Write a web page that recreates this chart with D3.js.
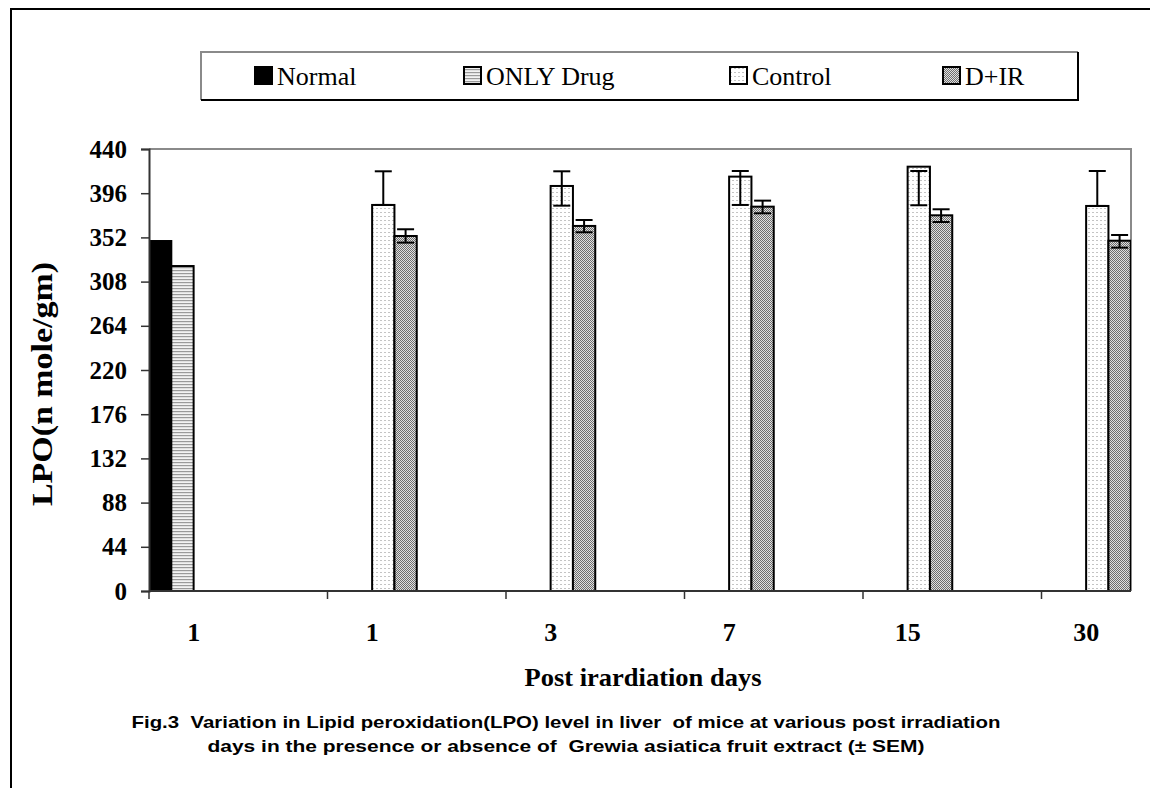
<!DOCTYPE html>
<html>
<head>
<meta charset="utf-8">
<script src="https://cdn.jsdelivr.net/npm/d3@7"></script>
<style>
  body { margin: 0; background: #fff; }
  svg { display: block; }
</style>
</head>
<body>
<svg id="chart" width="1150" height="788"></svg>
<script>
// ---- data ----
const categories = ["1", "1", "3", "7", "15", "30"];
const seriesNames = ["Normal", "ONLY Drug", "Control", "D+IR"];

const normalVals = [348.4, null, null, null, null, null];
const drugVals   = [323.5, null, null, null, null, null];
const controlVals = [null, 384.3, 403.2, 412.5, 422.4, 383.3];
const dirVals     = [null, 353.4, 363.4, 382.6, 374.0, 348.7];

// error bar ends (± SEM) as plotted
const controlHi = [null, 417.8, 417.8, 418.1, 418.1, 418.1];
const controlLo = [null, 384.3, 383.6, 384.3, 384.0, 383.3];
const dirHi     = [null, 360.1, 369.3, 388.6, 380.0, 354.4];
const dirLo     = [null, 346.8, 357.1, 376.0, 367.3, 341.8];

const yTicks = [0, 44, 88, 132, 176, 220, 264, 308, 352, 396, 440];

// ---- layout ----
const plot = { left: 149, top: 149, right: 1131, bottom: 591 };
const catStep = 178.5;
const serif = "'Liberation Serif', 'Times New Roman', serif";

const svg = d3.select("#chart");

// patterns
const defs = svg.append("defs");

const pDrug = defs.append("pattern").attr("id", "pat-drug")
    .attr("patternUnits", "userSpaceOnUse").attr("width", 4).attr("height", 3);
pDrug.append("rect").attr("width", 4).attr("height", 3).attr("fill", "#f2f2f2");
pDrug.append("rect").attr("width", 4).attr("height", 1.2).attr("fill", "#9a9a9a");

const pCtrl = defs.append("pattern").attr("id", "pat-control")
    .attr("patternUnits", "userSpaceOnUse").attr("width", 4).attr("height", 4);
pCtrl.append("rect").attr("width", 4).attr("height", 4).attr("fill", "#ffffff");
pCtrl.append("rect").attr("width", 2).attr("height", 1).attr("fill", "#c4c4c4");

const pDir = defs.append("pattern").attr("id", "pat-dir")
    .attr("patternUnits", "userSpaceOnUse").attr("width", 2).attr("height", 2);
pDir.append("rect").attr("width", 2).attr("height", 2).attr("fill", "#e0e0e0");
pDir.append("rect").attr("width", 1).attr("height", 1).attr("fill", "#6e6e6e");
pDir.append("rect").attr("x", 1).attr("y", 1).attr("width", 1).attr("height", 1).attr("fill", "#6e6e6e");

const fills = ["#000000", "url(#pat-drug)", "url(#pat-control)", "url(#pat-dir)"];

// outer frame
svg.append("rect")
    .attr("x", 11).attr("y", 9).attr("width", 1200).attr("height", 820)
    .attr("fill", "none").attr("stroke", "#000").attr("stroke-width", 2);

// scales
const x = d3.scaleBand()
    .domain(d3.range(categories.length))
    .range([plot.left, plot.left + catStep * categories.length])
    .padding(0);

const slot = d3.scaleBand()
    .domain(seriesNames)
    .range([0, x.bandwidth() / 2])
    .padding(0);

const y = d3.scaleLinear()
    .domain([0, 440])
    .range([plot.bottom, plot.top]);

// plot frame (top & right, gray)
svg.append("path")
    .attr("d", `M${plot.left},${plot.top}H${plot.right}V${plot.bottom}`)
    .attr("fill", "none").attr("stroke", "#8a8a8a").attr("stroke-width", 2);

// clip for the truncated last category
defs.append("clipPath").attr("id", "plot-clip")
  .append("rect")
    .attr("x", plot.left).attr("y", plot.top - 40)
    .attr("width", plot.right - plot.left).attr("height", plot.bottom - plot.top + 40);

const seriesVals = [normalVals, drugVals, controlVals, dirVals];
const barData = [];
seriesVals.forEach((vals, si) => {
    vals.forEach((v, ci) => {
        if (v != null) barData.push({ s: seriesNames[si], si: si, ci: ci, v: v });
    });
});

const barsG = svg.append("g").attr("clip-path", "url(#plot-clip)");
barsG.selectAll("rect.bar")
    .data(barData)
    .enter()
    .append("rect")
    .attr("class", "bar")
    .attr("x", d => x(d.ci) + slot(d.s))
    .attr("y", d => y(d.v))
    .attr("width", slot.bandwidth())
    .attr("height", d => y(0) - y(d.v))
    .attr("fill", d => fills[d.si])
    .attr("stroke", "#000")
    .attr("stroke-width", 2);

// error bars
const errData = [];
[[2, controlHi, controlLo], [3, dirHi, dirLo]].forEach(([si, hi, lo]) => {
    hi.forEach((h, ci) => {
        if (h != null) errData.push({ s: seriesNames[si], ci: ci, hi: h, lo: lo[ci] });
    });
});
const capW = 17;
const errG = barsG.append("g").attr("stroke", "#000").attr("stroke-width", 2);
errData.forEach(d => {
    const cx = x(d.ci) + slot(d.s) + slot.bandwidth() / 2;
    errG.append("line").attr("x1", cx).attr("x2", cx).attr("y1", y(d.hi)).attr("y2", y(d.lo));
    errG.append("line").attr("x1", cx - capW / 2).attr("x2", cx + capW / 2).attr("y1", y(d.hi)).attr("y2", y(d.hi));
    errG.append("line").attr("x1", cx - capW / 2).attr("x2", cx + capW / 2).attr("y1", y(d.lo)).attr("y2", y(d.lo));
});

// y axis
const yAxis = svg.append("g")
    .attr("transform", `translate(${plot.left},0)`)
    .call(d3.axisLeft(y).tickValues(yTicks).tickSize(8).tickPadding(14));
yAxis.select(".domain").attr("stroke", "#333").attr("stroke-width", 2);
yAxis.selectAll(".tick line").attr("stroke", "#333").attr("stroke-width", 1.5);
yAxis.selectAll(".tick text")
    .attr("fill", "#000")
    .style("font-family", serif)
    .style("font-weight", "bold")
    .style("font-size", "25px");

// x axis
svg.append("line")
    .attr("x1", plot.left).attr("x2", plot.right)
    .attr("y1", plot.bottom).attr("y2", plot.bottom)
    .attr("stroke", "#333").attr("stroke-width", 2);

const xg = svg.append("g");
xg.selectAll("line.xtick")
    .data(d3.range(categories.length))
    .enter()
    .append("line")
    .attr("x1", d => x(d)).attr("x2", d => x(d))
    .attr("y1", plot.bottom).attr("y2", plot.bottom + 8)
    .attr("stroke", "#333").attr("stroke-width", 1.5);

xg.selectAll("text.xlab")
    .data(categories)
    .enter()
    .append("text")
    .attr("x", (d, i) => x(i) + x.bandwidth() / 4)
    .attr("y", 641)
    .attr("text-anchor", "middle")
    .style("font-family", serif)
    .style("font-weight", "bold")
    .style("font-size", "26px")
    .text(d => d);

// axis titles
svg.append("text")
    .attr("transform", `translate(52,384) rotate(-90)`)
    .attr("text-anchor", "middle")
    .attr("textLength", 244)
    .attr("lengthAdjust", "spacingAndGlyphs")
    .style("font-family", serif)
    .style("font-weight", "bold")
    .style("font-size", "30px")
    .text("LPO(n mole/gm)");

svg.append("text")
    .attr("x", 643).attr("y", 686)
    .attr("text-anchor", "middle")
    .attr("textLength", 237)
    .attr("lengthAdjust", "spacingAndGlyphs")
    .style("font-family", serif)
    .style("font-weight", "bold")
    .style("font-size", "26px")
    .text("Post irardiation days");

// legend
const legend = { x: 201, y: 52, w: 877, h: 48 };
const legG = svg.append("g");
legG.append("rect")
    .attr("x", legend.x).attr("y", legend.y).attr("width", legend.w).attr("height", legend.h)
    .attr("fill", "#fff").attr("stroke", "none");
legG.append("path")
    .attr("d", `M${legend.x},${legend.y + legend.h}V${legend.y}H${legend.x + legend.w}`)
    .attr("fill", "none").attr("stroke", "#8a8a8a").attr("stroke-width", 2);
legG.append("path")
    .attr("d", `M${legend.x},${legend.y + legend.h}H${legend.x + legend.w}V${legend.y}`)
    .attr("fill", "none").attr("stroke", "#000").attr("stroke-width", 2);

const legX = [255, 464, 730, 943];
const items = legG.selectAll("g.item")
    .data(seriesNames)
    .enter()
    .append("g")
    .attr("transform", (d, i) => `translate(${legX[i]},0)`);
items.append("rect")
    .attr("x", 0).attr("y", 67).attr("width", 17).attr("height", 17)
    .attr("fill", (d, i) => fills[i])
    .attr("stroke", "#000").attr("stroke-width", 2);
items.append("text")
    .attr("x", 22).attr("y", 85)
    .style("font-family", serif)
    .style("font-size", "26px")
    .text(d => d);

// caption
const capLines = [
    "Fig.3  Variation in Lipid peroxidation(LPO) level in liver  of mice at various post irradiation",
    "days in the presence or absence of  Grewia asiatica fruit extract (\u00B1 SEM)"
];
const capLen = [869, 717];
svg.selectAll("text.caption")
    .data(capLines)
    .enter()
    .append("text")
    .attr("x", 566)
    .attr("y", (d, i) => 728 + i * 24)
    .attr("text-anchor", "middle")
    .attr("textLength", (d, i) => capLen[i])
    .attr("lengthAdjust", "spacingAndGlyphs")
    .style("font-family", "'Liberation Sans', Arial, sans-serif")
    .style("font-weight", "bold")
    .style("font-size", "17px")
    .style("white-space", "pre")
    .text(d => d);
</script>
</body>
</html>
